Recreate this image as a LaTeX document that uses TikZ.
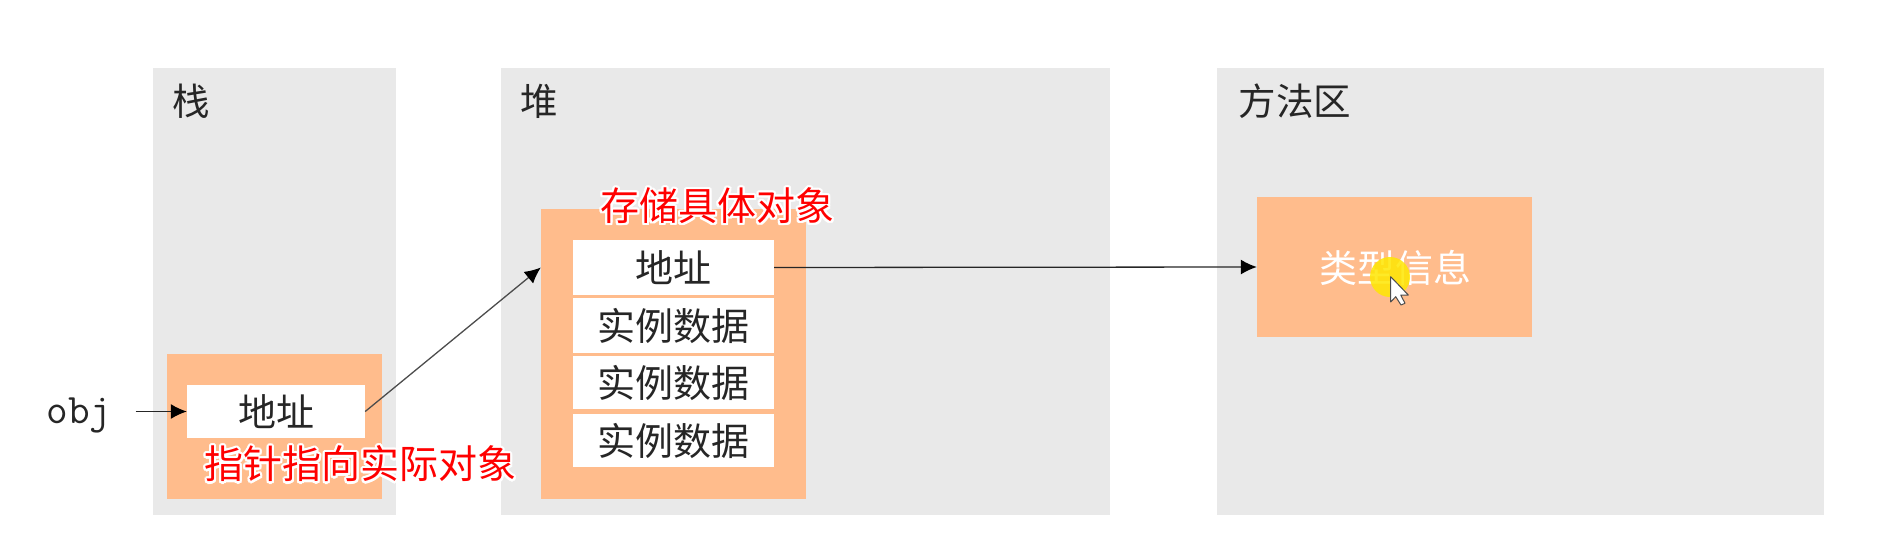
\documentclass[tikz,border=0pt]{standalone}
\usepackage{fontspec}
\usepackage{contour}
\usetikzlibrary{arrows.meta}
\newfontfamily\cjk{Noto Sans CJK SC}
\definecolor{panelgray}{HTML}{E9E9E9}
\definecolor{boxorange}{HTML}{FFBC8C}
\definecolor{inkgray}{HTML}{262626}
\contourlength{2.2pt}
\tikzset{
  orangebox/.style={fill=boxorange,inner sep=0pt},
  cell/.style={fill=white,inner sep=0pt,minimum width=201pt,text=inkgray,font=\fontsize{38}{38}\cjk},
  title/.style={text=inkgray,font=\fontsize{37.5}{38}\cjk},
  remark/.style={inner sep=0pt,font=\fontsize{39}{39}\cjk},
}
\newcommand{\redtext}[1]{\contour{white}{\textcolor{red}{#1}}}
\begin{document}
\begin{tikzpicture}[x=1pt,y=-1pt,>={Latex[length=16pt,width=15pt,black]}]
  \useasboundingbox (0,0) rectangle (1878,546);

  % panels
  \fill[panelgray] (153,68) rectangle (396,514.5);
  \fill[panelgray] (501,68) rectangle (1110,514.5);
  \fill[panelgray] (1217,68) rectangle (1824,514.5);
  \node[title] (stacktitle) at (191.5,101) {栈};
  \node[title] (heaptitle) at (539,101) {堆};
  \node[title] (methodtitle) at (1295,101) {方法区};

  % stack
  \node[orangebox,minimum width=215pt,minimum height=145pt] (stackbox) at (274.5,426.5) {};
  \node[cell,minimum width=178pt,minimum height=53pt] (stackaddr) at (276,411.5) {地址};
  \node[inner sep=0pt,anchor=base,font=\fontsize{42}{42}\ttfamily,text=inkgray] (obj) at (79,423) {obj};

  % heap
  \node[orangebox,minimum width=265pt,minimum height=290pt] (heapbox) at (673.5,354) {};
  \node[cell,minimum height=55pt] (heapaddr) at (673.5,267.5) {地址};
  \node[cell,minimum height=55pt] (dataa) at (673.5,325.5) {实例数据};
  \node[cell,minimum height=53pt] (datab) at (673.5,382.5) {实例数据};
  \node[cell,minimum height=53pt] (datac) at (673.5,440.5) {实例数据};

  % method area
  \node[orangebox,minimum width=275pt,minimum height=140pt] (typebox) at (1394.5,267) {};
  \node[title,font=\fontsize{38}{38}\cjk,text=white] (typeinfo) at (1395,268) {类型信息};
  \fill[yellow!90!orange,opacity=.85] (1390,277) circle (20);
  \draw[fill=white,draw=black!70,line width=1pt,line join=round]
    (1390.7,276.7) -- (1390.7,302) -- (1395.7,296.7) -- (1401,305) -- (1405,303.3) -- (1400.7,295) -- (1408.3,295) -- cycle;

  % arrows
  \draw[->,line width=1.3pt,draw=black!85,shorten <=24pt] (obj.east |- stackaddr.west) -- (stackaddr.west);
  \draw[->,line width=1.3pt,draw=black!70] (stackaddr.east) -- (heapbox.west |- heapaddr.east);
  \draw[->,line width=1.3pt,draw=black!85] (heapaddr.east) -- (typebox.west);

  % remarks
  \node[remark] (stackremark) at (360.5,465) {\redtext{指针指向实际对象}};
  \node[remark] (heapremark) at (717.5,207) {\redtext{存储具体对象}};
\end{tikzpicture}
\end{document}
